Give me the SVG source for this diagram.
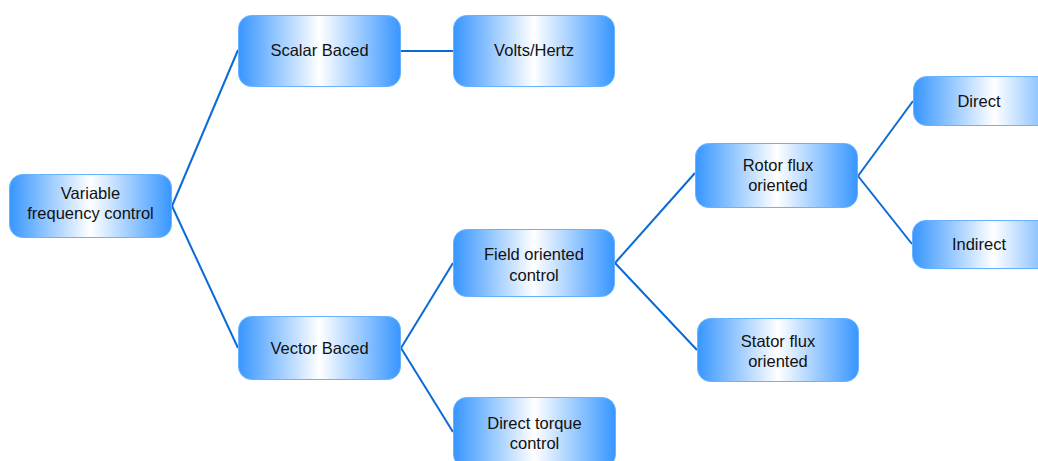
<svg xmlns="http://www.w3.org/2000/svg" width="1038" height="461" viewBox="0 0 1038 461">
<defs>
<linearGradient id="g" x1="0" y1="0" x2="1" y2="0">
<stop offset="0" stop-color="#3796ff"/>
<stop offset="0.5" stop-color="#ffffff"/>
<stop offset="1" stop-color="#3796ff"/>
</linearGradient>
</defs>
<style>
.n rect{fill:url(#g);stroke:#6ab2ff;stroke-width:1}
.n text{font-family:"Liberation Sans",Arial,sans-serif;font-size:16.5px;fill:#111;text-anchor:middle}
.c path{fill:none;stroke:#0a6ad6;stroke-width:2}
</style>
<rect width="1038" height="461" fill="#fff"/>
<g class="c">
<path d="M172,206 L238,50"/>
<path d="M172,206 L238,348"/>
<path d="M401,51 L453,51"/>
<path d="M401,348 L453,263"/>
<path d="M401,348 L453,432"/>
<path d="M615,263 L695,173"/>
<path d="M615,263 L697,350"/>
<path d="M858,176 L913,101"/>
<path d="M858,176 L912,244"/>
</g>
<g id="vfc" class="n"><rect x="9.5" y="174.5" width="162" height="63" rx="13"/><text x="90.5" y="199">Variable</text><text x="90.5" y="219">frequency control</text></g>
<g id="scalar" class="n"><rect x="238.5" y="15.5" width="162" height="71" rx="13"/><text x="319.5" y="56">Scalar Baced</text></g>
<g id="vh" class="n"><rect x="453.5" y="15.5" width="161" height="71" rx="13"/><text x="534" y="56">Volts/Hertz</text></g>
<g id="vector" class="n"><rect x="238.5" y="316.5" width="162" height="63" rx="13"/><text x="319.5" y="354">Vector Baced</text></g>
<g id="foc" class="n"><rect x="453.5" y="229.5" width="161" height="67" rx="13"/><text x="534" y="260">Field oriented</text><text x="534" y="281">control</text></g>
<g id="dtc" class="n"><rect x="453.5" y="397.5" width="162" height="70" rx="13"/><text x="534.5" y="429">Direct torque</text><text x="534.5" y="449">control</text></g>
<g id="rotor" class="n"><rect x="695.5" y="143.5" width="162" height="64" rx="13"/><text x="778" y="171">Rotor flux</text><text x="778" y="191">oriented</text></g>
<g id="stator" class="n"><rect x="697.5" y="318.5" width="161" height="63" rx="13"/><text x="778" y="347">Stator flux</text><text x="778" y="367">oriented</text></g>
<g id="direct" class="n"><rect x="913.5" y="76.5" width="162" height="49" rx="13"/><text x="979" y="107">Direct</text></g>
<g id="indirect" class="n"><rect x="912.5" y="220.5" width="162" height="48" rx="13"/><text x="979" y="250">Indirect</text></g>
</svg>
